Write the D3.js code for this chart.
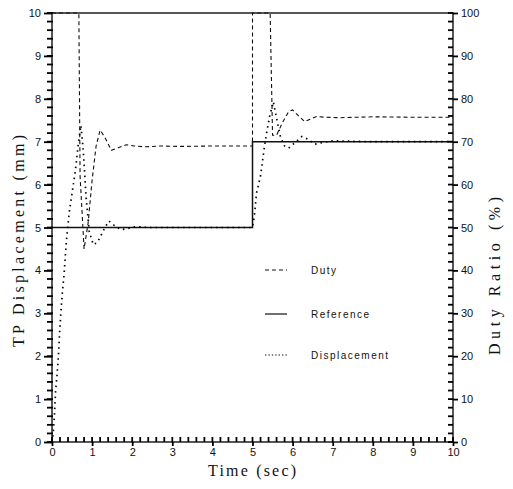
<!DOCTYPE html>
<html lang="en">

<head>
  <meta charset="utf-8" />
  <title>TP Displacement / Duty Ratio</title>
  <script src="https://d3js.org/d3.v7.min.js"></script>
  <style>
    body {
      margin: 0;
      background: #fff;
    }
  </style>
</head>

<body>
  <svg width="513" height="489"></svg>

  <script>
    // time (sec) / value pairs
    const refT = [0, 5, 5, 10];
    const refV = [5, 5, 7, 7];

    // duty ratio (%)
    const dutyT = [0, 0.67, 0.7, 0.8, 0.9, 1.0, 1.1, 1.2, 1.32, 1.48, 1.65, 1.85, 2.05, 2.3, 2.7, 3.2, 4.0, 5.0,
      5.0, 5.44, 5.5, 5.6, 5.75, 5.9, 6.0, 6.15, 6.3, 6.45, 6.6, 6.8, 7.2, 8.0, 9.0, 10];
    const dutyV = [100, 100, 62, 45, 51, 61, 69, 72.7, 71, 68, 68.6, 69.3, 69, 68.8, 69, 68.9, 69, 69,
      100, 100, 71.5, 71.5, 74.5, 77, 77.4, 76, 74.7, 75.3, 75.9, 75.7, 75.6, 75.8, 75.7, 75.7];

    // TP displacement (mm)
    const dispT = [0, 0.03, 0.06, 0.09, 0.12, 0.16, 0.19, 0.22, 0.26, 0.3, 0.33, 0.36, 0.43, 0.5, 0.58, 0.65, 0.72,
      0.78, 0.85, 0.93, 1.03, 1.13, 1.24, 1.32, 1.42, 1.55, 1.72, 1.9, 2.1, 2.4, 3, 4, 5,
      5.05, 5.1, 5.15, 5.2, 5.25, 5.3, 5.35, 5.43, 5.52, 5.6, 5.7, 5.8, 5.9, 6.05, 6.23, 6.4, 6.55, 6.75, 7, 8, 9, 10];
    const dispV = [0, 0.2, 0.6, 1.2, 1.5, 2.0, 2.55, 3.0, 3.5, 3.9, 4.3, 4.7, 5.35, 5.8, 6.3, 6.9, 7.38,
      6.8, 5.7, 4.9, 4.6, 4.65, 4.85, 5.0, 5.15, 5.05, 4.95, 4.98, 5.02, 5.0, 5.0, 5.0, 5.0,
      5.3, 5.8, 6.0, 6.2, 6.55, 6.9, 7.2, 7.6, 7.93, 7.55, 7.1, 6.9, 6.85, 6.97, 7.12, 7.05, 6.94, 6.98, 7.02, 7.0, 7.0, 7.0];

    const legendItems = ["Duty", "Reference", "Displacement"];

    const svg = d3.select("svg");
    const pL = 52, pR = 453, pT = 13, pB = 442;
    const serif = "Liberation Serif";
    const sans = "Liberation Sans";

    const x = d3.scaleLinear().domain([0, 10]).range([pL, pR]);
    const y = d3.scaleLinear().domain([0, 10]).range([pB, pT]);
    const yR = d3.scaleLinear().domain([0, 100]).range([pB, pT]);

    const minorX = d3.range(0, 51).map(i => i / 5);
    const minorY = d3.range(0, 51).map(i => i / 5);
    const minorR = d3.range(0, 51).map(i => i * 2);

    function style(g) {
      g.select(".domain").remove();
      g.selectAll(".tick line").attr("stroke", "#000").attr("stroke-width", 1.8);
      g.selectAll(".tick text").attr("fill", "#111")
        .attr("font-family", sans).attr("font-size", 11);
    }

    // frame
    svg.append("rect")
      .attr("x", pL).attr("y", pT)
      .attr("width", pR - pL).attr("height", pB - pT)
      .attr("fill", "none").attr("stroke", "#111").attr("stroke-width", 1.4);

    const line = d3.line();

    const refPts = refT.map((t, i) => [x(t), y(refV[i])]);
    const dutyPts = dutyT.map((t, i) => [x(t), yR(dutyV[i])]);
    const dispPts = dispT.map((t, i) => [x(t), y(dispV[i])]);

    svg.append("path").attr("d", line(refPts))
      .attr("fill", "none").attr("stroke", "#111").attr("stroke-width", 1.5);

    svg.append("path").attr("d", line(dutyPts))
      .attr("fill", "none").attr("stroke", "#111").attr("stroke-width", 1.1)
      .attr("stroke-dasharray", "4,3");

    svg.append("path").attr("d", line(dispPts))
      .attr("fill", "none").attr("stroke", "#000").attr("stroke-width", 1.7)
      .attr("stroke-dasharray", "1.5,4");

    // minor ticks drawn as plain lines from the scales
    const ticks = svg.append("g").attr("stroke", "#000").attr("stroke-width", 1.8);
    ticks.selectAll(".ml").data(minorY).join("line").attr("class", "ml")
      .attr("x1", pL - 5).attr("x2", pL + 1)
      .attr("y1", d => y(d)).attr("y2", d => y(d));
    ticks.selectAll(".mb").data(minorX).join("line").attr("class", "mb")
      .attr("x1", d => x(d)).attr("x2", d => x(d))
      .attr("y1", pB).attr("y2", pB - 5);
    ticks.selectAll(".mr").data(minorR).join("line").attr("class", "mr")
      .attr("x1", pR - 5).attr("x2", pR)
      .attr("y1", d => yR(d)).attr("y2", d => yR(d));

    // labelled major ticks
    svg.append("g").attr("transform", `translate(${pL},0)`)
      .call(d3.axisLeft(y).tickValues(d3.range(0, 11)).tickSize(8).tickPadding(3).tickFormat(d3.format("d")))
      .call(style);
    svg.append("g").attr("transform", `translate(0,${pB})`)
      .call(d3.axisBottom(x).tickValues(d3.range(0, 11)).tickSize(4).tickPadding(2).tickFormat(d3.format("d")))
      .call(style);
    svg.append("g").attr("transform", `translate(${pR},0)`)
      .call(d3.axisRight(yR).tickValues(d3.range(0, 101, 10)).tickSize(5).tickPadding(3).tickFormat(d3.format("d")))
      .call(style);

    // titles
    function title(sel) {
      sel.attr("font-family", serif).attr("font-size", 16).attr("fill", "#111")
        .attr("text-anchor", "middle").attr("lengthAdjust", "spacing");
    }
    svg.append("text").call(title)
      .attr("transform", `translate(24,241) rotate(-90)`)
      .attr("textLength", 212)
      .text("TP Displacement (mm)");
    svg.append("text").call(title)
      .attr("x", 252).attr("y", 476)
      .attr("textLength", 88)
      .text("Time (sec)");
    svg.append("text").call(title)
      .attr("transform", `translate(500,276) rotate(-90)`)
      .attr("textLength", 158)
      .text("Duty Ratio (%)");

    // legend
    const legendY = [270, 314, 355];
    const dashes = ["4,3", null, "1.4,2"];
    const lg = svg.append("g");
    legendItems.forEach((name, i) => {
      lg.append("line")
        .attr("x1", 265).attr("x2", 287)
        .attr("y1", legendY[i]).attr("y2", legendY[i])
        .attr("stroke", "#111").attr("stroke-width", 1.2)
        .attr("stroke-dasharray", dashes[i]);
      lg.append("text")
        .attr("x", 311).attr("y", legendY[i] + 4)
        .attr("font-family", sans).attr("font-size", 10)
        .attr("letter-spacing", 1.5).attr("fill", "#111")
        .text(name);
    });
  </script>
</body>

</html>
